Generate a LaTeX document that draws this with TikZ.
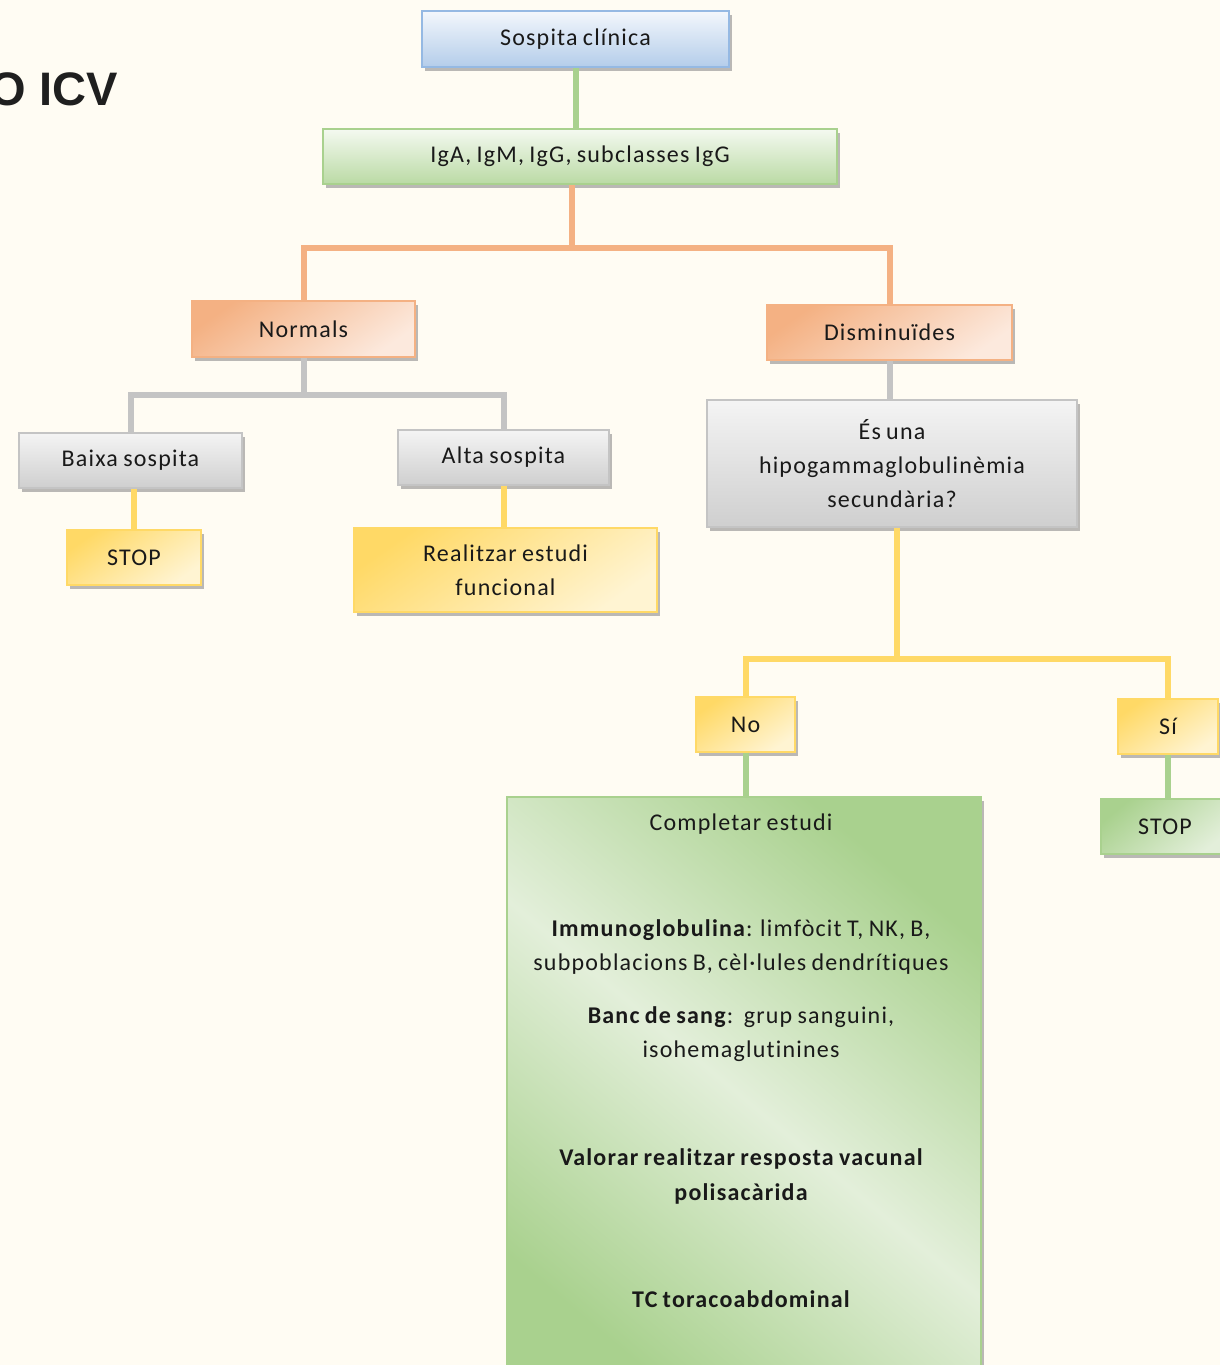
\documentclass[tikz,border=0pt]{standalone}
\usepackage{fontspec}
\setmainfont{Carlito}[LetterSpace=5,WordSpace=0.8,Ligatures=NoCommon]
\newfontfamily\titlefont{Liberation Sans}
\usetikzlibrary{shadows,calc}
\definecolor{bg}{HTML}{FFFCF3}
\definecolor{bluedk}{HTML}{B4CDEA}
\definecolor{bluelt}{HTML}{F3F7FC}
\definecolor{blueln}{HTML}{95B9E3}
\definecolor{greendk}{HTML}{A9D18E}
\definecolor{greenlt}{HTML}{F4F9F0}
\definecolor{greenmd}{HTML}{E3EFDA}
\definecolor{orangedk}{HTML}{F4B183}
\definecolor{orangelt}{HTML}{FCE9DD}
\definecolor{graydk}{HTML}{CFCFCF}
\definecolor{graylt}{HTML}{F4F4F4}
\definecolor{grayln}{HTML}{C4C4C4}
\definecolor{yellowdk}{HTML}{FFD966}
\definecolor{yellowlt}{HTML}{FFF4D2}
\tikzset{
  box/.style={draw, line width=1.2pt, inner sep=0pt, align=center,
    font=\fontsize{24}{34}\selectfont, text=black!90,
    drop shadow={shadow xshift=3pt, shadow yshift=-4pt, fill=black!45, opacity=0.6}},
  bluebox/.style={box, draw=blueln, top color=bluelt, bottom color=bluedk},
  greenbox/.style={box, draw=greendk, top color=greenlt, bottom color=greendk!80},
  orangebox/.style={box, draw=orangedk, top color=orangedk, bottom color=orangelt, shading angle=35},
  graybox/.style={box, draw=grayln, top color=graylt, bottom color=graydk},
  yellowbox/.style={box, draw=yellowdk, top color=yellowdk, bottom color=yellowlt, shading angle=35},
  gdiag/.style={box, draw=greendk, top color=greendk, bottom color=greendk, middle color=greenmd, shading angle=-40},
  ctext/.style={inner sep=0pt, align=center, font=\fontsize{24}{34}\selectfont, text=black!90},
  conn/.style={line width=6pt},
  cgreen/.style={conn, draw=greendk},
  corange/.style={conn, draw=orangedk},
  cgray/.style={conn, draw=grayln},
  cyellow/.style={conn, draw=yellowdk},
}
\begin{document}
\begin{tikzpicture}[x=1pt,y=-1pt]
\fill[bg] (0,0) rectangle (1220,1365);
\useasboundingbox (0,0) rectangle (1220,1365);
\clip (0,0) rectangle (1220,1365);

\node[anchor=base east, inner sep=0pt, font=\titlefont\bfseries\fontsize{47}{50}\selectfont, text=black!88] (title) at (118,105) {O ICV};

% nodes
\node[bluebox, minimum width=307pt, minimum height=56pt] (sos) at (575.5,39) {Sospita clínica};
\node[greenbox, minimum width=514pt, minimum height=55pt] (ig) at (580,156.5) {IgA, IgM, IgG, subclasses IgG};
\node[orangebox, minimum width=223pt, minimum height=56pt] (norm) at (303.5,329) {Normals};
\node[orangebox, minimum width=245pt, minimum height=55pt] (dism) at (889.5,332.5) {Disminuïdes};
\node[graybox, minimum width=223pt, minimum height=55pt] (baixa) at (130.5,460.5) {Baixa sospita};
\node[graybox, minimum width=211pt, minimum height=55pt] (alta) at (503.5,457.5) {Alta sospita};
\node[yellowbox, minimum width=134pt, minimum height=55pt] (stopa) at (134,557.5) {STOP};
\node[yellowbox, minimum width=303pt, minimum height=84pt] (real) at (505.5,570) {Realitzar estudi\\funcional};
\node[graybox, minimum width=370pt, minimum height=127pt] (sec) at (892,463.5) {És una\\hipogammaglobulinèmia\\secundària?};
\node[yellowbox, minimum width=99pt, minimum height=55pt] (no) at (745.5,724.5) {No};
\node[yellowbox, minimum width=100pt, minimum height=55pt] (si) at (1168,726.5) {Sí};
\node[gdiag, minimum width=474pt, minimum height=603pt] (comp) at (744,1098.5) {};
\node[greenbox, top color=greendk, bottom color=greenmd, shading angle=40, minimum width=128pt, minimum height=55pt] (stopb) at (1165,826.5) {STOP};

% texts inside Completar estudi
\node[ctext] (c1) at (741,824) {Completar estudi};
\node[ctext] (c2) at (741,947.5) {\textbf{Immunoglobulina}: limfòcit T, NK, B,\\subpoblacions B, cèl·lules dendrítiques};
\node[ctext] (c3) at (741,1034.5) {\textbf{Banc de sang}:\ \ grup sanguini,\\isohemaglutinines};
\node[ctext, font=\bfseries\fontsize{24}{35}\selectfont] (c4) at (741,1176.5) {Valorar realitzar resposta vacunal\\polisacàrida};
\node[ctext, font=\bfseries\fontsize{24}{34}\selectfont] (c5) at (741,1299) {TC toracoabdominal};

% connectors
\coordinate (oj) at (572,248);
\coordinate (gj) at (305,395);
\coordinate (yj) at (897,659);
\draw[cgreen] (sos.south) -- (sos.south |- ig.north);
\draw[corange] (ig.south -| oj) -- (oj);
\draw[corange] (norm.north) |- (oj) -| (dism.north);
\draw[cgray] (norm.south) -- (norm.south |- gj);
\draw[cgray] (baixa.north) |- (gj) -| (alta.north);
\draw[cyellow] (stopa.north |- baixa.south) -- (stopa.north);
\draw[cyellow] (alta.south) -- (alta.south |- real.north);
\draw[cgray] (dism.south) -- (dism.south |- sec.north);
\draw[cyellow] (sec.south -| yj) -- (yj);
\draw[cyellow] (no.north) |- (yj) -| (si.north);
\draw[cgreen] (no.south) -- (no.south |- comp.north);
\draw[cgreen] (si.south) -- (si.south |- stopb.north);
\end{tikzpicture}
\end{document}
